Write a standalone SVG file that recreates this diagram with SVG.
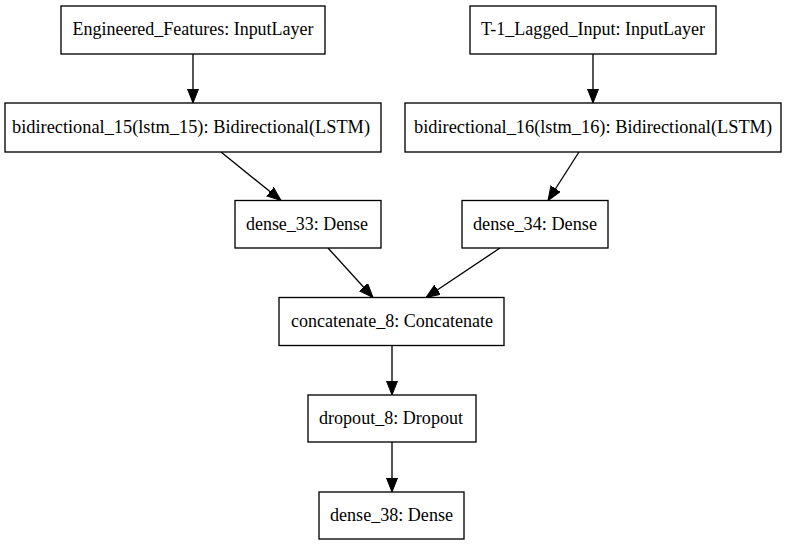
<svg xmlns="http://www.w3.org/2000/svg" width="787" height="547" viewBox="0 0 787 547">
<defs>
<marker id="ah" markerUnits="userSpaceOnUse" markerWidth="15" markerHeight="12" refX="14" refY="5.5" orient="auto">
<path d="M0,0 L14,5.5 L0,11 Z" fill="#000" stroke="#000" stroke-width="1"/>
</marker>
<style>
.n rect{fill:#fff;stroke:#000;stroke-width:1.33}
.n text{font-family:"Liberation Serif","Times New Roman",serif;font-size:18.67px;fill:#000;text-anchor:middle}
.e line{stroke:#000;stroke-width:1.33;marker-end:url(#ah)}
</style>
</defs>
<rect width="787" height="547" fill="#fff"/>
<g id="connectors" class="e">
<line x1="193" y1="54" x2="193" y2="103"/>
<line x1="593" y1="54" x2="593" y2="103"/>
<line x1="221" y1="152" x2="281" y2="200.5"/>
<line x1="579" y1="152" x2="548" y2="200.5"/>
<line x1="328" y1="248" x2="373" y2="297.5"/>
<line x1="500" y1="248" x2="426" y2="297.5"/>
<line x1="392" y1="346" x2="392" y2="395"/>
<line x1="392" y1="442" x2="392" y2="492"/>
</g>
<g id="engineered_features" class="n"><rect x="61" y="6" width="264" height="48"/><text x="193" y="35" textLength="241" lengthAdjust="spacingAndGlyphs">Engineered_Features: InputLayer</text></g>
<g id="t1_lagged_input" class="n"><rect x="470" y="6" width="246" height="48"/><text x="593" y="35" textLength="224" lengthAdjust="spacingAndGlyphs">T-1_Lagged_Input: InputLayer</text></g>
<g id="bidirectional_15" class="n"><rect x="5" y="103" width="376" height="49"/><text x="191" y="132.5" textLength="358" lengthAdjust="spacingAndGlyphs">bidirectional_15(lstm_15): Bidirectional(LSTM)</text></g>
<g id="bidirectional_16" class="n"><rect x="405" y="103" width="376" height="49"/><text x="593" y="132.5" textLength="358" lengthAdjust="spacingAndGlyphs">bidirectional_16(lstm_16): Bidirectional(LSTM)</text></g>
<g id="dense_33" class="n"><rect x="235" y="200.5" width="146" height="47.5"/><text x="307" y="229.5" textLength="122" lengthAdjust="spacingAndGlyphs">dense_33: Dense</text></g>
<g id="dense_34" class="n"><rect x="462" y="200.5" width="146" height="47.5"/><text x="535" y="229.5" textLength="124" lengthAdjust="spacingAndGlyphs">dense_34: Dense</text></g>
<g id="concatenate_8" class="n"><rect x="279" y="297.5" width="225" height="48"/><text x="392" y="327" textLength="202" lengthAdjust="spacingAndGlyphs">concatenate_8: Concatenate</text></g>
<g id="dropout_8" class="n"><rect x="308" y="395" width="168" height="47"/><text x="391" y="424" textLength="144" lengthAdjust="spacingAndGlyphs">dropout_8: Dropout</text></g>
<g id="dense_38" class="n"><rect x="319" y="492" width="145" height="47"/><text x="391.5" y="521" textLength="123" lengthAdjust="spacingAndGlyphs">dense_38: Dense</text></g>
</svg>
